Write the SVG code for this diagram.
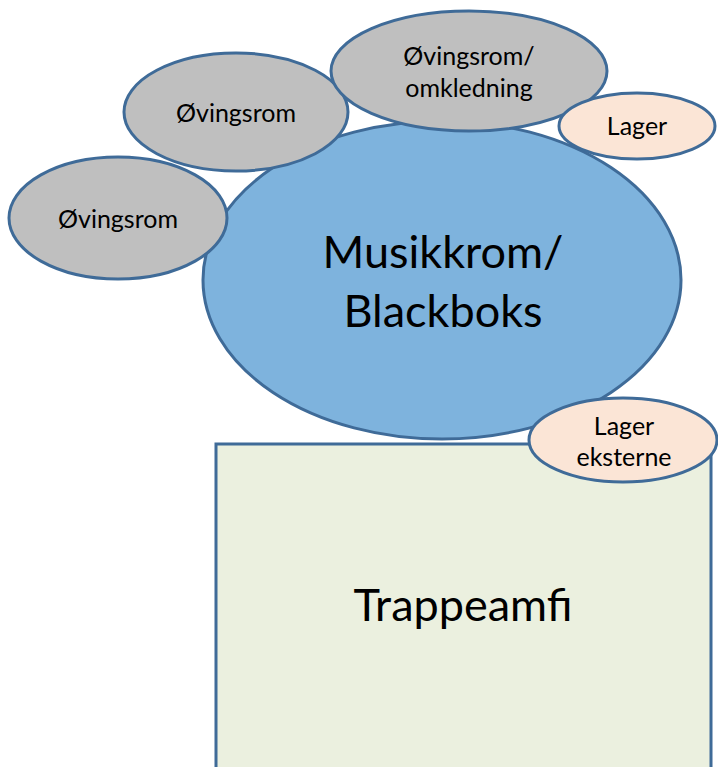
<svg xmlns="http://www.w3.org/2000/svg" width="718" height="767" viewBox="0 0 718 767">
<style>
.shape{stroke:#3F6B98;stroke-width:3}
.blue{fill:#7EB3DD}
.gray{fill:#BFBFBF}
.peach{fill:#FBE5D6}
.green{fill:#EBF0DF}
text{font-family:Lato,"Open Sans","Liberation Sans",sans-serif;fill:#000;text-anchor:middle}
.s{font-size:25px}
.l{font-size:45px}
</style>
<rect width="718" height="767" fill="#fff"/>
<g id="connectors"></g>
<g id="trappeamfi">
<rect class="shape green" x="216" y="444" width="495" height="340"/>
<text class="l" x="463" y="621">Trappeamfi</text>
</g>
<g id="musikkrom">
<ellipse class="shape blue" cx="442" cy="280" rx="239" ry="159"/>
<text class="l" x="443" y="268">Musikkrom/</text>
<text class="l" x="443" y="327">Blackboks</text>
</g>
<g id="ovingsrom1">
<ellipse class="shape gray" cx="118" cy="218" rx="109" ry="61"/>
<text class="s" x="118" y="228">Øvingsrom</text>
</g>
<g id="ovingsrom2">
<ellipse class="shape gray" cx="236" cy="112" rx="112" ry="59"/>
<text class="s" x="236" y="122">Øvingsrom</text>
</g>
<g id="ovingsrom3">
<ellipse class="shape gray" cx="469" cy="71" rx="138" ry="60"/>
<text class="s" x="469" y="65">Øvingsrom/</text>
<text class="s" x="469" y="97">omkledning</text>
</g>
<g id="lager1">
<ellipse class="shape peach" cx="637" cy="126" rx="78" ry="33"/>
<text class="s" x="637" y="135">Lager</text>
</g>
<g id="lager2">
<ellipse class="shape peach" cx="623" cy="440" rx="94" ry="42"/>
<text class="s" x="624" y="435">Lager</text>
<text class="s" x="624" y="466">eksterne</text>
</g>
</svg>
